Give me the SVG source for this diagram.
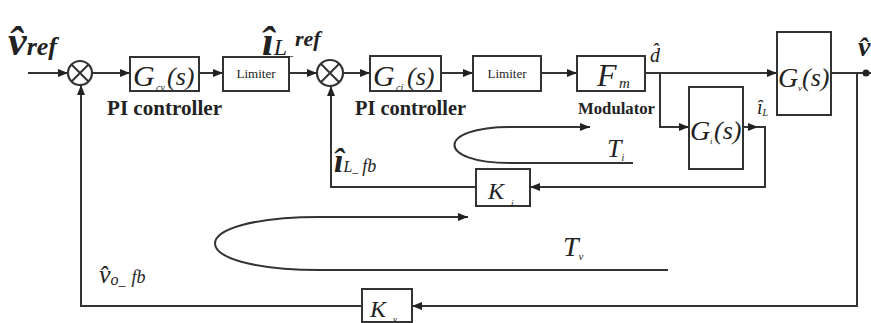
<svg xmlns="http://www.w3.org/2000/svg" width="871" height="323" viewBox="0 0 871 323">
<defs>
<marker id="ah" viewBox="0 0 10 8" refX="10" refY="4" markerWidth="10" markerHeight="8" markerUnits="userSpaceOnUse" orient="auto">
<path d="M0,0 L10,4 L0,8 z" fill="#222"/>
</marker>
</defs>
<style>
.box{fill:#fff;stroke:#333;stroke-width:2}
.ln{fill:none;stroke:#333;stroke-width:2}
.ar{fill:none;stroke:#333;stroke-width:2;marker-end:url(#ah)}
.sum{fill:#fff;stroke:#333;stroke-width:2.2}
.it{font-style:italic}
.b{font-weight:bold}
</style>
<rect width="871" height="323" fill="#fff"/>

<g id="connectors">
<path class="ar" d="M28,73 H68"/>
<path class="ar" d="M92,73 H130"/>
<path class="ar" d="M199,73 H223"/>
<path class="ar" d="M289,73 H317"/>
<path class="ar" d="M343,73 H370"/>
<path class="ar" d="M441,73 H473"/>
<path class="ar" d="M541,73 H577"/>
<path class="ar" d="M645,73 H777"/>
<path class="ar" d="M660,73 V127 H689"/>
<path class="ar" d="M743,127 H758"/>
<path class="ar" d="M756,127 H765 V187 H530"/>
<path class="ar" d="M476,187 H331 V86"/>
<path class="ln" d="M831,73 H871"/>
<circle cx="866" cy="73" r="3.5" fill="#222"/>
<path class="ar" d="M857,73 V306 H412"/>
<path class="ar" d="M362,306 H81 V85"/>
<path class="ar" d="M633,163 H510 C436,163 436,127 510,127 H590"/>
<path class="ar" d="M668,270 H320 C180,270 180,217 320,217 H468"/>
</g>

<g font-family="Liberation Serif, Times New Roman, serif" fill="#222">
<g id="sum1">
<circle class="sum" cx="80" cy="73" r="12"/>
<path class="ln" d="M71.5,64.5 L88.5,81.5 M88.5,64.5 L71.5,81.5"/>
</g>
<g id="sum2">
<circle class="sum" cx="330" cy="73" r="13"/>
<path class="ln" d="M320.8,63.8 L339.2,82.2 M339.2,63.8 L320.8,82.2"/>
</g>

<g id="Gcv">
<rect class="box" x="130" y="57" width="69" height="34"/>
<text class="it" x="133" y="86" font-size="30">G</text>
<text class="it" x="156" y="91" font-size="10">cv</text>
<text class="it" x="167" y="85" font-size="26">(s)</text>
</g>
<g id="limiter1">
<rect class="box" x="223" y="57" width="66" height="34"/>
<text x="256" y="78" font-size="13" text-anchor="middle">Limiter</text>
</g>
<g id="Gci">
<rect class="box" x="370" y="56" width="71" height="35"/>
<text class="it" x="373" y="86" font-size="30">G</text>
<text class="it" x="396" y="91" font-size="10">ci</text>
<text class="it" x="407" y="85" font-size="26">(s)</text>
</g>
<g id="limiter2">
<rect class="box" x="473" y="56" width="68" height="35"/>
<text x="507" y="78" font-size="13" text-anchor="middle">Limiter</text>
</g>
<g id="Fm">
<rect class="box" x="577" y="56" width="68" height="35"/>
<text class="it" x="597" y="86" font-size="32">F</text>
<text class="it" x="619" y="88" font-size="15">m</text>
</g>
<g id="Gv">
<rect class="box" x="777" y="32" width="54" height="83"/>
<text class="it" x="778" y="87" font-size="28">G</text>
<text class="it" x="798" y="91" font-size="9">v</text>
<text class="it" x="802" y="86" font-size="26">(s)</text>
</g>
<g id="Gi">
<rect class="box" x="689" y="87" width="54" height="82"/>
<text class="it" x="690" y="140" font-size="28">G</text>
<text class="it" x="710" y="144" font-size="9">i</text>
<text class="it" x="714" y="139" font-size="26">(s)</text>
</g>
<g id="Ki">
<rect class="box" x="476" y="169" width="54" height="37"/>
<text class="it" x="488" y="199" font-size="24">K</text>
<text class="it" x="511" y="206" font-size="9">i</text>
</g>
<g id="Kv">
<rect class="box" x="362" y="289" width="50" height="33"/>
<text class="it" x="370" y="317" font-size="24">K</text>
<text class="it" x="393" y="322" font-size="9">v</text>
</g>

<g id="labels">
<text class="it b" x="8" y="55" font-size="42">v̂<tspan font-size="26">ref</tspan></text>

<text class="it b" x="262" y="55" font-size="42">î<tspan font-size="24" font-weight="normal">L</tspan><tspan font-size="12" font-weight="normal">_</tspan><tspan font-size="22" dy="-9" dx="2">ref</tspan></text>

<text class="b" x="107" y="115" font-size="20" textLength="115" lengthAdjust="spacingAndGlyphs">PI controller</text>
<text class="b" x="355" y="115" font-size="20" textLength="111" lengthAdjust="spacingAndGlyphs">PI controller</text>
<text class="b" x="578" y="114" font-size="17" textLength="77" lengthAdjust="spacingAndGlyphs">Modulator</text>

<text class="it" x="650" y="62" font-size="20">d̂</text>

<text class="it" x="757" y="114" font-size="20">î<tspan font-size="10" dy="2">L</tspan></text>

<text class="it b" x="858" y="56" font-size="28">v̂</text>

<text class="it b" x="334" y="172" font-size="34">î<tspan font-size="16" font-weight="normal">L</tspan><tspan font-size="12" font-weight="normal">_</tspan><tspan font-size="18" font-weight="normal" dx="4">fb</tspan></text>

<text class="it" x="99" y="283" font-size="26">v̂<tspan font-size="16" dy="2">o</tspan><tspan font-size="14">_</tspan><tspan font-size="18" dx="6" dy="-2">fb</tspan></text>

<text class="it" x="607" y="157" font-size="26">T<tspan font-size="10" dy="4">i</tspan></text>
<text class="it" x="563" y="256" font-size="28">T<tspan font-size="11" dy="4">v</tspan></text>
</g>
</g>
</svg>
